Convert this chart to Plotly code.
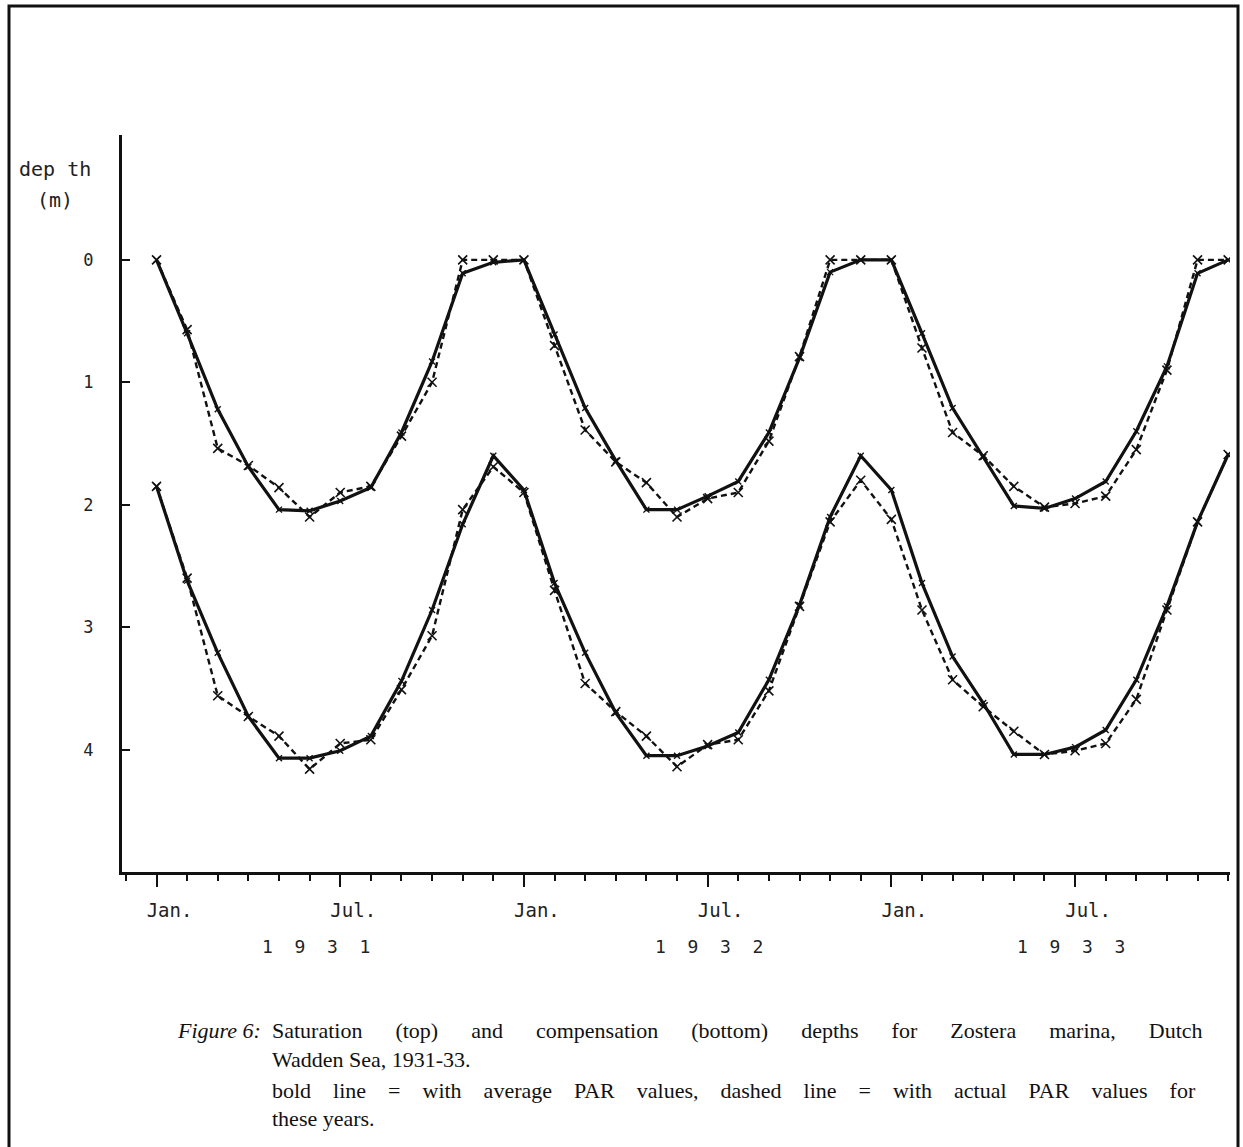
import plotly.graph_objects as go

# ---------------- data ----------------
years = ["1931", "1932", "1933"]
month_names = ["Jan", "Feb", "Mar", "Apr", "May", "Jun",
               "Jul", "Aug", "Sep", "Oct", "Nov", "Dec"]
month_labels = [m + " " + y for y in years for m in month_names]

# saturation depth (top), average PAR (bold line)
sat_avg = [0.00, 0.60, 1.22, 1.69, 2.04, 2.05, 1.97, 1.86, 1.41, 0.83, 0.11, 0.02,
           0.00, 0.61, 1.21, 1.64, 2.04, 2.04, 1.93, 1.81, 1.41, 0.80, 0.10, 0.00,
           0.00, 0.60, 1.21, 1.61, 2.01, 2.03, 1.95, 1.81, 1.40, 0.87, 0.11, 0.00]
# saturation depth (top), actual PAR (dashed line)
sat_act = [0.00, 0.57, 1.54, 1.68, 1.86, 2.10, 1.90, 1.85, 1.44, 1.00, 0.00, 0.00,
           0.00, 0.70, 1.39, 1.65, 1.82, 2.10, 1.95, 1.90, 1.48, 0.79, 0.00, 0.00,
           0.00, 0.72, 1.41, 1.60, 1.85, 2.02, 1.99, 1.93, 1.55, 0.90, 0.00, 0.00]
# compensation depth (bottom), average PAR (bold line)
comp_avg = [1.85, 2.62, 3.21, 3.73, 4.07, 4.07, 4.01, 3.89, 3.44, 2.86, 2.16, 1.60,
            1.88, 2.64, 3.21, 3.70, 4.05, 4.05, 3.97, 3.86, 3.43, 2.82, 2.10, 1.60,
            1.88, 2.64, 3.24, 3.62, 4.04, 4.04, 3.98, 3.84, 3.43, 2.83, 2.14, 1.59]
# compensation depth (bottom), actual PAR (dashed line)
comp_act = [1.85, 2.60, 3.56, 3.73, 3.89, 4.16, 3.95, 3.92, 3.51, 3.07, 2.04, 1.69,
            1.90, 2.70, 3.46, 3.69, 3.89, 4.14, 3.96, 3.92, 3.52, 2.83, 2.14, 1.80,
            2.12, 2.86, 3.43, 3.65, 3.85, 4.04, 4.01, 3.95, 3.59, 2.86, 2.14, 1.59]

tick_positions = [0, 6, 12, 18, 24, 30]
tick_text = ["Jan.", "Jul.", "Jan.", "Jul.", "Jan.", "Jul."]
year_labels = ["1 9 3 1", "1 9 3 2", "1 9 3 3"]
year_label_pos = [5.21, 18.04, 29.87]
depth_ticks = [0, 1, 2, 3, 4]

caption_label = "Figure 6:"
caption_lines = [
    "Saturation (top) and compensation (bottom) depths for Zostera marina, Dutch",
    "Wadden Sea, 1931-33.",
    "bold line = with average PAR values, dashed line = with actual PAR values for",
    "these years.",
]

# ---------------- figure ----------------
W, H = 1243, 1147
L, R, T, B = 122, 1230, 135, 872   # plot area in pixels


def pxx(xp):
    return (xp - L) / (R - L)


def pxy(yp):
    return (B - yp) / (B - T)


x = list(range(len(month_labels)))
INK = "#111111"
NB = "\u00a0"

fig = go.Figure()

dash_style = dict(color=INK, width=2.4, dash="6px,4px")
solid_style = dict(color=INK, width=3.2)
dash_marker = dict(symbol="x-thin", size=9, color=INK, line=dict(width=1.6, color=INK))
solid_marker = dict(symbol="x-thin", size=6, color=INK, line=dict(width=1.4, color=INK))

for ys in (sat_act, comp_act):
    fig.add_trace(go.Scatter(x=x, y=ys, mode="lines+markers", line=dash_style,
                             marker=dash_marker, showlegend=False,
                             hovertext=month_labels))
for ys in (sat_avg, comp_avg):
    fig.add_trace(go.Scatter(x=x, y=ys, mode="lines+markers", line=solid_style,
                             marker=solid_marker, showlegend=False,
                             hovertext=month_labels))

tick_font = dict(family="DejaVu Sans Mono", size=19, color="#222222")

fig.update_xaxes(
    range=[-1.127, 35.06],
    showline=True, linecolor=INK, linewidth=3,
    showgrid=False, zeroline=False,
    tickmode="array", tickvals=tick_positions, ticktext=tick_text,
    ticks="outside", ticklen=12, tickwidth=2, tickcolor=INK,
    minor=dict(dtick=1, tick0=0, ticks="outside", ticklen=6, tickwidth=2, tickcolor=INK),
    tickfont=tick_font, ticklabelshift=13, ticklabelstandoff=7,
)
fig.update_yaxes(
    range=[5.0, -1.02],
    showline=True, linecolor=INK, linewidth=3,
    showgrid=False, zeroline=False,
    tickmode="array", tickvals=depth_ticks, ticktext=[str(v) for v in depth_ticks],
    ticks="inside", ticklen=8, tickwidth=2, tickcolor=INK,
    tickfont=dict(family="DejaVu Sans Mono", size=17, color="#222222"),
    ticklabelstandoff=22,
)

annotations = []
for lab, pos in zip(year_labels, year_label_pos):
    annotations.append(dict(x=pos, xref="x", y=pxy(946), yref="paper",
                            text=lab.replace(" ", NB * 2), showarrow=False,
                            xanchor="center", yanchor="middle",
                            font=dict(family="DejaVu Sans Mono", size=18, color="#222222")))
annotations.append(dict(x=pxx(55), y=pxy(169), xref="paper", yref="paper",
                        text="dep" + NB + "th", showarrow=False, xanchor="center",
                        yanchor="middle",
                        font=dict(family="DejaVu Sans Mono", size=20, color="#222222")))
annotations.append(dict(x=pxx(55), y=pxy(200), xref="paper", yref="paper",
                        text="(m)", showarrow=False, xanchor="center", yanchor="middle",
                        font=dict(family="DejaVu Sans Mono", size=20, color="#222222")))

cap_font = dict(family="Liberation Serif", size=22, color=INK)
annotations.append(dict(x=pxx(175), y=pxy(1030), xref="paper", yref="paper",
                        text="<i>" + caption_label + "</i>", showarrow=False,
                        xanchor="left", yanchor="middle", font=cap_font))
cap_y = [1030, 1059, 1090, 1118]
cap_gap = [6, 1, 4, 1]
for line, yy, g in zip(caption_lines, cap_y, cap_gap):
    annotations.append(dict(x=pxx(270), y=pxy(yy), xref="paper", yref="paper",
                            text=(NB * g).join(line.split(" ")), showarrow=False,
                            xanchor="left", yanchor="middle", font=cap_font))

shapes = [dict(type="rect", xref="paper", yref="paper",
               x0=pxx(9), x1=pxx(1238), y0=pxy(1165), y1=pxy(6),
               line=dict(color=INK, width=3))]

fig.update_layout(
    width=W, height=H,
    margin=dict(l=L, r=W - R, t=T, b=H - B, pad=0),
    paper_bgcolor="white", plot_bgcolor="white",
    annotations=annotations, shapes=shapes,
    showlegend=False,
)

fig.write_html("out.html")
